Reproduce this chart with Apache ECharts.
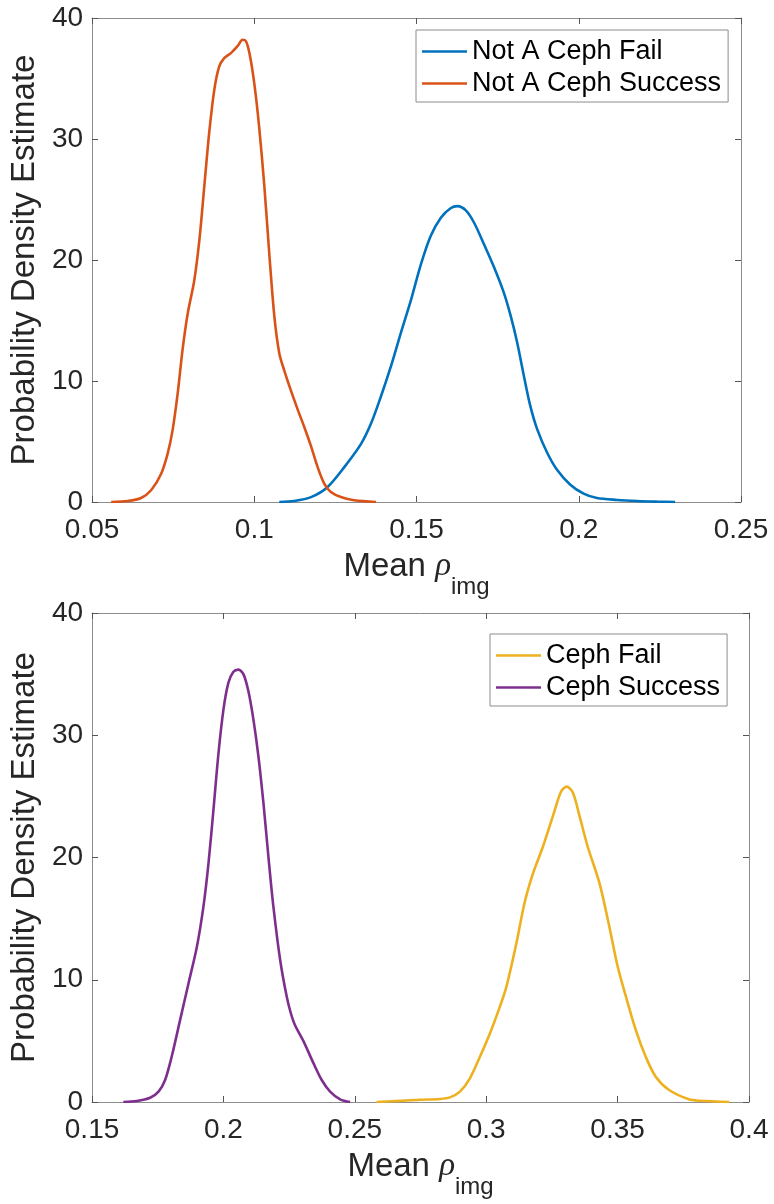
<!DOCTYPE html>
<html>
<head>
<meta charset="utf-8">
<script src="https://cdn.jsdelivr.net/npm/echarts@6/dist/echarts.min.js"></script>
<style>
  html, body { margin: 0; padding: 0; background: #fff; }
  #chart { width: 774px; height: 1204px; }
</style>
</head>
<body>
<div id="chart"></div>
<script>
// ---------- Data ----------
// Top panel
const notCephFailX = [0.1077, 0.1123, 0.1175, 0.1226, 0.1278, 0.1329, 0.1360, 0.1390, 0.1421, 0.1452, 0.1483, 0.1513, 0.1544, 0.1575, 0.1606, 0.1626, 0.1652, 0.1677, 0.1708, 0.1739, 0.1769, 0.1790, 0.1810, 0.1831, 0.1851, 0.1872, 0.1903, 0.1933, 0.1974, 0.2015, 0.2056, 0.2118, 0.2179, 0.2241, 0.2297];
const notCephFailY = [0, 0.08, 0.4, 1.24, 2.9, 4.8, 6.5, 8.7, 11.2, 14.0, 16.7, 19.6, 22.0, 23.5, 24.3, 24.45, 24.1, 23.1, 21.3, 19.4, 17.3, 15.4, 13.2, 10.4, 7.9, 6.0, 4.05, 2.67, 1.43, 0.69, 0.33, 0.17, 0.08, 0.03, 0];

const notCephSuccessX = [0.0559, 0.0610, 0.0651, 0.0682, 0.0713, 0.0733, 0.0748, 0.0764, 0.0779, 0.0795, 0.0815, 0.0831, 0.0846, 0.0861, 0.0877, 0.0892, 0.0908, 0.0928, 0.0949, 0.0964, 0.0974, 0.0985, 0.1000, 0.1015, 0.1031, 0.1046, 0.1062, 0.1077, 0.1092, 0.1113, 0.1133, 0.1154, 0.1175, 0.1195, 0.1216, 0.1236, 0.1267, 0.1308, 0.1375];
const notCephSuccessY = [0, 0.08, 0.33, 0.97, 2.34, 4.0, 5.9, 9.0, 12.6, 15.6, 18.3, 21.7, 26.1, 30.5, 34.1, 36.0, 36.7, 37.1, 37.7, 38.2, 38.1, 37.1, 34.6, 31.0, 26.1, 20.6, 15.3, 12.3, 10.9, 9.2, 7.7, 6.2, 4.6, 2.9, 1.5, 0.83, 0.41, 0.14, 0];

// Bottom panel
const cephFailX = [0.2583, 0.2686, 0.2749, 0.2824, 0.2862, 0.2900, 0.2938, 0.2976, 0.3014, 0.3052, 0.3077, 0.3115, 0.3146, 0.3178, 0.3216, 0.3254, 0.3285, 0.3307, 0.3330, 0.3355, 0.3386, 0.3431, 0.3468, 0.3500, 0.3532, 0.3569, 0.3607, 0.3645, 0.3696, 0.3771, 0.3813, 0.3925];
const cephFailY = [0, 0.11, 0.19, 0.25, 0.38, 0.85, 1.94, 3.7, 5.6, 7.8, 9.44, 13.0, 16.3, 18.7, 20.9, 23.4, 25.4, 25.8, 25.3, 23.4, 20.9, 17.9, 14.4, 11.1, 8.6, 5.9, 3.7, 2.07, 0.98, 0.22, 0.1, 0];

const cephSuccessX = [0.1619, 0.1670, 0.1721, 0.1753, 0.1778, 0.1803, 0.1835, 0.1867, 0.1899, 0.1924, 0.1943, 0.1962, 0.1981, 0.2000, 0.2019, 0.2038, 0.2057, 0.2076, 0.2095, 0.2114, 0.2133, 0.2152, 0.2171, 0.2190, 0.2216, 0.2241, 0.2256, 0.2272, 0.2304, 0.2342, 0.2374, 0.2406, 0.2444, 0.2482];
const cephSuccessY = [0, 0.08, 0.35, 0.85, 1.8, 3.7, 6.7, 9.7, 12.7, 16.0, 19.5, 23.9, 28.5, 32.1, 34.3, 35.2, 35.37, 35.0, 33.6, 31.3, 28.3, 24.5, 20.1, 16.0, 11.6, 8.6, 7.3, 6.3, 5.0, 3.2, 1.8, 0.85, 0.22, 0];

// Axis ranges / ticks
const topXRange = [0.05, 0.25, 0.05];
const bottomXRange = [0.15, 0.40, 0.05];
const yRange = [0, 40, 10];
const seriesNamesTop = ['Not A Ceph Fail', 'Not A Ceph Success'];
const seriesNamesBottom = ['Ceph Fail', 'Ceph Success'];
const yAxisTitle = 'Probability Density Estimate';

// ---------- Chart ----------
const FONT = 'Liberation Sans, Arial, Helvetica, sans-serif';
const TXT = '#262626';
const AXIS_LINE = '#8c8c8c';
const TICK = '#555555';

function pairs(xs, ys) { return xs.map((x, i) => [x, ys[i]]); }
function fmt(v) { return String(+v.toFixed(4)); }

function xAxisMain(grid, r) {
  return {
    type: 'value', gridIndex: grid, position: 'bottom',
    min: r[0], max: r[1], interval: r[2],
    splitLine: { show: false },
    axisLine: { show: true, onZero: false, lineStyle: { color: AXIS_LINE, width: 1 } },
    axisTick: { show: true, inside: true, length: 6, lineStyle: { color: TICK, width: 1 } },
    axisLabel: { show: true, margin: 14, fontSize: 28, color: TXT, fontFamily: FONT, formatter: fmt },
    name: '{m|Mean }{r|ρ}{s|img}',
    nameLocation: 'middle',
    nameGap: 48,
    nameTextStyle: {
      color: TXT,
      rich: {
        m: { fontSize: 33, fontFamily: FONT, color: TXT, verticalAlign: 'top' },
        r: { fontSize: 33, fontFamily: 'Liberation Serif, DejaVu Serif, serif', fontStyle: 'italic', color: TXT, verticalAlign: 'top' },
        s: { fontSize: 24, fontFamily: FONT, color: TXT, verticalAlign: 'top', padding: [25, 0, 0, 0] }
      }
    }
  };
}
function xAxisTop(grid, r) {
  return {
    type: 'value', gridIndex: grid, position: 'top',
    min: r[0], max: r[1], interval: r[2],
    splitLine: { show: false },
    axisLine: { show: true, onZero: false, lineStyle: { color: AXIS_LINE, width: 1 } },
    axisTick: { show: true, inside: true, length: 6, lineStyle: { color: TICK, width: 1 } },
    axisLabel: { show: false }
  };
}
function yAxisMain(grid) {
  return {
    type: 'value', gridIndex: grid, position: 'left',
    min: yRange[0], max: yRange[1], interval: yRange[2],
    splitLine: { show: false },
    axisLine: { show: true, onZero: false, lineStyle: { color: AXIS_LINE, width: 1 } },
    axisTick: { show: true, inside: true, length: 6, lineStyle: { color: TICK, width: 1 } },
    axisLabel: { show: true, margin: 9, fontSize: 28, color: TXT, fontFamily: FONT },
    name: yAxisTitle,
    nameLocation: 'middle',
    nameGap: 50,
    nameTextStyle: { fontSize: 33, color: TXT, fontFamily: FONT }
  };
}
function yAxisRight(grid) {
  return {
    type: 'value', gridIndex: grid, position: 'right',
    min: yRange[0], max: yRange[1], interval: yRange[2],
    splitLine: { show: false },
    axisLine: { show: true, onZero: false, lineStyle: { color: AXIS_LINE, width: 1 } },
    axisTick: { show: true, inside: true, length: 6, lineStyle: { color: TICK, width: 1 } },
    axisLabel: { show: false }
  };
}
function lineSeries(name, xi, yi, data, color) {
  return {
    name, type: 'line', xAxisIndex: xi, yAxisIndex: yi,
    data, smooth: 0.3,
    symbol: 'none', showSymbol: false,
    lineStyle: { color, width: 2.6 }, itemStyle: { color },
    animation: false, z: 3
  };
}
function legendBox(names, left, top) {
  return {
    data: names.map(n => ({ name: n, icon: 'rect' })),
    orient: 'vertical', left, top,
    itemWidth: 45, itemHeight: 2.5, itemGap: 5,
    padding: [8, 7, 5, 6],
    borderColor: '#8c8c8c', borderWidth: 1, backgroundColor: '#ffffff',
    textStyle: { fontSize: 27, color: '#000000', fontFamily: FONT },
    selectedMode: false
  };
}

const chart = echarts.init(document.getElementById('chart'), null, { renderer: 'canvas' });
chart.setOption({
  backgroundColor: '#ffffff',
  animation: false,
  grid: [
    { left: 91, right: 33, top: 18, height: 484 },
    { left: 92, right: 25, top: 613, height: 489 }
  ],
  xAxis: [xAxisMain(0, topXRange), xAxisTop(0, topXRange), xAxisMain(1, bottomXRange), xAxisTop(1, bottomXRange)],
  yAxis: [yAxisMain(0), yAxisRight(0), yAxisMain(1), yAxisRight(1)],
  legend: [legendBox(seriesNamesTop, 416, 30), legendBox(seriesNamesBottom, 490, 634)],
  series: [
    lineSeries(seriesNamesTop[0], 0, 0, pairs(notCephFailX, notCephFailY), '#0072BD'),
    lineSeries(seriesNamesTop[1], 0, 0, pairs(notCephSuccessX, notCephSuccessY), '#D95319'),
    lineSeries(seriesNamesBottom[0], 2, 2, pairs(cephFailX, cephFailY), '#EDB120'),
    lineSeries(seriesNamesBottom[1], 2, 2, pairs(cephSuccessX, cephSuccessY), '#7E2F8E')
  ]
});
</script>
</body>
</html>
